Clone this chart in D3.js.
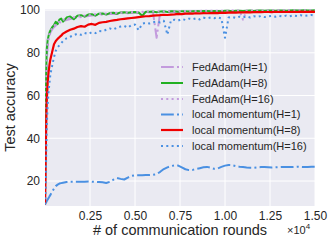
<!DOCTYPE html>
<html><head><meta charset="utf-8">
<script src="https://cdn.jsdelivr.net/npm/d3@7"></script>
<style>body{margin:0;background:#fff}svg{display:block}text{font-family:"Liberation Sans",Arial,sans-serif}</style>
</head><body><svg id="c" width="332" height="243"></svg>
<script>
const rounds = [0,25,50,75,100,150,200,250,300,400,500,600,700,800,900,1000,
 1200,1400,1600,1800,2000,2200,2400,2600,2800,3000,
 3200,3400,3600,3800,4000,4200,4400,4600,4800,5000,
 5200,5400,5600,5800,6000,6200,6400,6600,6800,7000,
 7200,7400,7600,7800,8000,8200,8400,8600,8800,9000,
 9200,9400,9600,9800,10000,10200,10400,10600,10800,11000,
 11200,11400,11600,11800,12000,12200,12400,12600,12800,13000,
 13200,13400,13600,13800,14000,14200,14400,14600,14800,15000];

const fedAdamH1 = [9,28,52,68,77,83,86,88,89.5,91,92,92.8,93.5,94,94.4,94.8,
 95.3,95.8,96.1,96.5,96.7,97,97.2,97.4,97.6,97.8,
 97.9,98,98.2,98.3,98.2,98.5,98.6,98.5,98.7,98.8,
 98.7,98.9,98.9,99,99,87,99,99.1,99.1,99.2,
 99.1,99.2,99.3,99.2,99.3,99.3,99.4,99.3,99.4,99.4,
 99.4,99.5,99.4,99.5,99.5,99.4,99.5,99.6,99.5,99.5,
 99.6,99.5,99.6,99.6,99.5,99.6,99.7,99.6,99.6,99.7,
 99.6,99.7,99.7,99.6,99.7,99.7,99.6,99.7,99.7,99.7];

const fedAdamH8 = [9,35,60,74,82,86,88,89.5,90.5,92,93,94.5,93.4,95.5,96,94.6,
 96.5,97,95.7,97.3,97.6,96.9,97.9,98.1,97.4,98.3,
 98.4,97.9,98.6,98.7,98.3,98.9,99,98.7,99,99.1,
 98.9,97.3,99.2,99.2,99.3,99,99.3,99.4,99.1,99.4,
 99.4,99.2,99.5,99.5,99.3,99.5,99.6,99.4,99.6,99.6,
 99.5,99.6,99.6,99.5,99.7,99.7,99.5,99.7,99.7,99.6,
 99.7,99.8,99.6,99.8,99.8,99.7,99.8,99.8,99.7,99.8,
 99.8,99.7,99.8,99.9,99.8,99.8,99.9,99.8,99.8,99.9];

const fedAdamH16 = [9,32,57,72,80,85,87.5,89,90,91.5,92.5,93.5,94.2,94.6,95,95.4,
 95.9,96.3,96.6,96.9,97.2,97.4,97.6,97.8,98,98.1,
 98.2,98.4,98.5,98.6,98.7,98.8,98.9,98.9,99,99.1,
 99.1,99.2,99.2,99.3,99.3,99.3,99.4,99.4,99.4,99.5,
 99.5,99.5,99.5,99.6,99.6,99.6,99.6,99.6,99.7,99.7,
 99.7,99.7,99.7,99.7,99.7,99.7,99.8,99.8,99.8,95.5,
 99.8,99.8,99.8,99.8,99.8,99.8,99.8,99.9,99.9,99.9,
 99.9,99.9,99.9,99.9,99.9,99.9,99.9,99.9,99.9,99.9];

const localMomH1 = [9,9.4,9.8,10.2,10.6,11.3,12,12.8,13.5,15,16.4,17.6,18.3,18.8,19,19.2,
 19.5,19.6,19.6,19.7,19.7,19.7,19.8,19.7,19.6,19.5,
 19.4,19.1,19.6,20.6,21.4,21,20.7,21.6,22.4,22.7,
 22.7,22.7,22.8,22.8,22.9,23.2,24.3,25.6,26.4,27,
 27.3,27.2,26.4,25.5,25.1,25.2,25.6,26,26.4,26.6,
 26.2,25.7,25.9,26.6,27.2,27.5,27.4,27,26.7,26.5,
 26.3,26.2,26.2,26.4,26.5,26.5,26.4,26.3,26.4,26.5,
 26.6,26.5,26.5,26.6,26.7,26.6,26.5,26.6,26.7,26.7];

const localMomH8 = [9,22,38,50,58,66,71,74.5,77,80.5,84,85.5,86.5,87.3,88,89,
 90,90.8,91.3,92.1,92.5,92.2,93.2,93.5,93.1,94,
 94.3,94.5,94.9,95.2,95.4,95.7,95.9,96.1,96.3,96.5,
 96.7,96.9,97.1,97.2,97.4,97.5,97.6,97.8,97.7,97.9,
 98,98.2,98.1,98.3,98.4,98.3,98.5,98.4,98.6,98.5,
 98.6,98.7,98.6,98.8,98.7,98.8,98.9,98.8,98.9,98.9,
 99,98.9,99,99.1,99,99.1,99.1,99,99.2,99.1,
 99.2,99.1,99.2,99.2,99.1,99.3,99.2,99.2,99.3,99.2];

const localMomH16 = [9,15,25,36,46,56,62,66,70,74,78,81,82.5,83.5,84.5,85.5,
 86.8,87.5,88.3,88.9,88.4,89.3,88.8,89.6,89.2,90.2,
 90.1,90.8,91.4,90.9,91.8,92.3,92.6,91.8,92.9,93.2,
 90.6,93.6,94,93.7,94.3,94.6,94.2,95,88.5,95.2,
 95.5,95.1,95.8,95.4,96,95.7,96.2,95.6,96.4,96.1,
 96.5,96.2,96.6,96.1,87,96.5,96.8,96.3,96.9,96.6,
 97,96.5,97.1,96.8,97.2,96.7,97.1,97.3,96.9,97.3,
 97,97.4,97.1,97.5,97.2,97.6,97.3,97.5,97.7,97.4];

const seriesNames = ["FedAdam(H=1)","FedAdam(H=8)","FedAdam(H=16)","local momentum(H=1)","local momentum(H=8)","local momentum(H=16)"];
const seriesValues = [fedAdamH1, fedAdamH8, fedAdamH16, localMomH1, localMomH8, localMomH16];

const xTicks = [2500,5000,7500,10000,12500,15000];
const xTickLabels = ["0.25","0.50","0.75","1.00","1.25","1.50"];
const yTicks = [20,40,60,80,100];

const styles = [
  {color:"#c39bdd", dash:"12.8,3.2,2,3.2", w:2},
  {color:"#22b022", dash:null, w:2},
  {color:"#c39bdd", dash:"2,3.3", w:2},
  {color:"#4a90e2", dash:"12.8,3.2,2,3.2", w:2},
  {color:"#f00000", dash:null, w:2.2},
  {color:"#4a90e2", dash:"2,3.3", w:2}
];

const svg = d3.select("#c");
const L=45, R=315, T=9, B=206;
const x = d3.scaleLinear().domain([0,15000]).range([L,R]);
const y = d3.scaleLinear().domain([8.3,100.5]).range([B,T]);

svg.append("rect").attr("x",L).attr("y",T).attr("width",R-L).attr("height",B-T).attr("fill","#eaeaf2");
const g = svg.append("g");
g.selectAll(".gx").data(xTicks).join("line").attr("x1",d=>x(d)).attr("x2",d=>x(d)).attr("y1",T).attr("y2",B).attr("stroke","#fff").attr("stroke-width",1);
g.selectAll(".gy").data(yTicks).join("line").attr("y1",d=>y(d)).attr("y2",d=>y(d)).attr("x1",L).attr("x2",R).attr("stroke","#fff").attr("stroke-width",1);

svg.append("defs").append("clipPath").attr("id","clip").append("rect").attr("x",L).attr("y",T).attr("width",R-L).attr("height",B-T);
const line = d3.line().x((d,i)=>x(rounds[i])).y(d=>y(d));
const lg = svg.append("g").attr("clip-path","url(#clip)");
seriesValues.forEach((vals,k)=>{
  const p = lg.append("path").datum(vals).attr("d",line).attr("fill","none")
    .attr("stroke",styles[k].color).attr("stroke-width",styles[k].w).attr("stroke-linejoin","round");
  if(styles[k].dash) p.attr("stroke-dasharray",styles[k].dash);
});

const xa = svg.append("g").attr("transform",`translate(0,${B})`)
  .call(d3.axisBottom(x).tickValues(xTicks).tickFormat((d,i)=>xTickLabels[i]).tickSize(0).tickPadding(5));
const ya = svg.append("g").attr("transform",`translate(${L},0)`)
  .call(d3.axisLeft(y).tickValues(yTicks).tickSize(0).tickPadding(5));
[xa,ya].forEach(a=>{a.select(".domain").remove(); a.selectAll("text").attr("fill","#262626").style("font-size","12px").style("font-family","'Liberation Sans',Arial,sans-serif");});

svg.append("text").attr("x",180).attr("y",235).attr("text-anchor","middle").attr("fill","#262626").style("font-size","14.5px").text("# of communication rounds");
const ex = svg.append("text").attr("x",287).attr("y",234).attr("fill","#262626").style("font-size","11px");
ex.append("tspan").text("×10");
ex.append("tspan").attr("dy",-5).style("font-size","8px").text("4");
svg.append("text").attr("transform","translate(15,107.5) rotate(-90)").attr("text-anchor","middle").attr("fill","#262626").style("font-size","14.5px").text("Test accuracy");

const leg = svg.append("g");
const rowY = [67,83,99,114.5,130,146];
seriesNames.forEach((n,k)=>{
  const l = leg.append("line").attr("x1",161).attr("x2",183).attr("y1",rowY[k]).attr("y2",rowY[k])
    .attr("stroke",styles[k].color).attr("stroke-width",styles[k].w);
  if(styles[k].dash) l.attr("stroke-dasharray",styles[k].dash);
  leg.append("text").attr("x",192).attr("y",rowY[k]).attr("dy","0.36em").attr("fill","#262626").style("font-size","11px").text(n);
});
</script></body></html>
